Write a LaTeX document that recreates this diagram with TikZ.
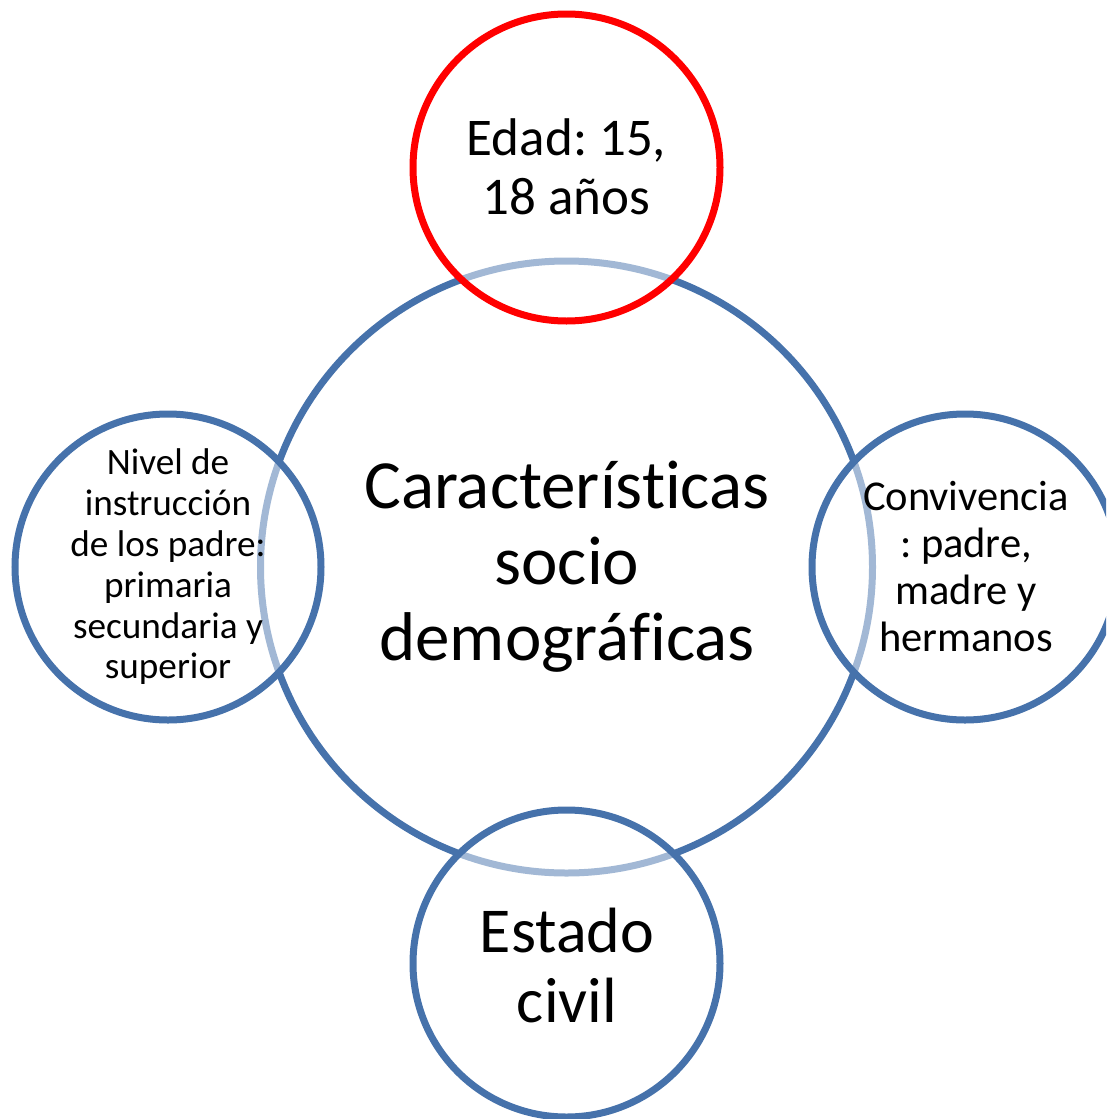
\documentclass[tikz,border=0pt]{standalone}
\usepackage{fontspec}
\setmainfont{Carlito}[Ligatures=NoCommon]
\frenchspacing
\definecolor{cblue}{HTML}{4672AB}
\definecolor{cred}{HTML}{FF0000}
\begin{document}
\begin{tikzpicture}[x=1pt,y=-1pt,
  ring/.style={draw=cblue,line width=7pt},
  sat/.style={line width=7pt,fill=white,fill opacity=0.5},
  lbl/.style={align=center,text=black,inner sep=0pt}]
\useasboundingbox (0,0) rectangle (1106,1119);
\begin{scope}
\clip (0,0) rectangle (1106,1119);
% central circle
\draw[ring] (566.5,567) circle (306);
% satellites
\draw[sat,draw=cred] (566.5,167.5) circle (153.5);
\draw[sat,draw=cblue] (168,567) circle (153);
\draw[sat,draw=cblue] (965,567) circle (153);
\draw[sat,draw=cblue] (566.5,963.5) circle (153.5);
\end{scope}
\node[lbl,font=\fontsize{69}{76}\selectfont] (main) at (567,567) {Características\\socio\\demográficas};
\node[lbl,font=\fontsize{53}{59}\selectfont] (edad) at (566.5,167) {Edad: 15,\\18 años};
\node[lbl,font=\fontsize{37.2}{40.8}\selectfont] (nivel) at (168,567) {Nivel de\\instrucción\\de los padre:\\primaria\\secundaria y\\superior};
\node[lbl,font=\fontsize{42.5}{47}\selectfont] (conv) at (966,567) {Convivencia\\: padre,\\madre y\\hermanos};
\node[lbl,font=\fontsize{64}{70}\selectfont] (est) at (567,965) {Estado\\civil};
\end{tikzpicture}
\end{document}
